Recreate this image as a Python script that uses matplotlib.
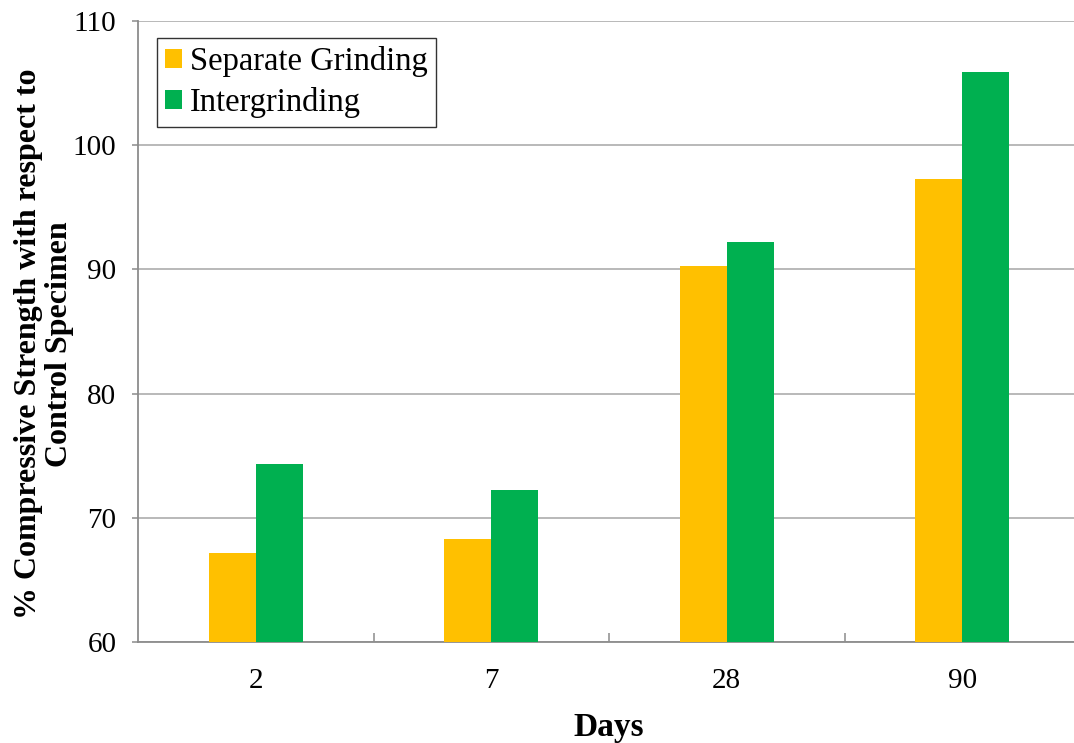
import matplotlib
matplotlib.use("Agg")
import matplotlib.pyplot as plt
import numpy as np

# Compressive strength (% of control specimen) by curing age
days = ["2", "7", "28", "90"]
separate_grinding = [67.2, 68.3, 90.3, 97.3]
intergrinding = [74.3, 72.2, 92.2, 105.9]
series_names = ["Separate Grinding", "Intergrinding"]
y_ticks = [60, 70, 80, 90, 100, 110]

plt.rcParams["font.family"] = ["Liberation Serif", "DejaVu Serif"]

fig = plt.figure(figsize=(10.74, 7.43), dpi=100)
ax = fig.add_axes([138 / 1074, 101 / 743, 942 / 1074, 621 / 743])

x = np.arange(len(days))
w = 0.2
ax.bar(x - w / 2, separate_grinding, width=w, color="#FFC000",
       label=series_names[0], zorder=3)
ax.bar(x + w / 2, intergrinding, width=w, color="#00B050",
       label=series_names[1], zorder=3)

ax.set_xlim(-0.5, len(days) - 0.5)
ax.set_ylim(60, 110)
ax.set_yticks(y_ticks)
ax.set_xticks(x)
ax.set_xticklabels(days)
ax.set_xticks(np.arange(0.5, len(days) - 0.5, 1.0), minor=True)

grey = "#8c8c8c"
ax.yaxis.grid(True, color="#a6a6a6", linewidth=1.1, zorder=0)
ax.set_axisbelow(True)
for side in ("top", "right"):
    ax.spines[side].set_visible(False)
for side in ("left", "bottom"):
    ax.spines[side].set_color(grey)
    ax.spines[side].set_linewidth(1.3)

ax.tick_params(axis="y", direction="out", length=4.5, width=1.1, color=grey,
               labelsize=21, pad=11)
ax.tick_params(axis="x", which="major", length=0, labelsize=21, pad=19)
ax.tick_params(axis="x", which="minor", direction="in", length=6.5,
               width=1.1, color=grey)

ax.set_xlabel("Days", fontsize=24, fontweight="bold", labelpad=13)
fig.text(44 / 1074, 1 - 344 / 743,
         "% Compressive Strength with respect to\nControl Specimen",
         rotation=90, ha="center", va="center", multialignment="center",
         fontsize=23, fontweight="bold", linespacing=1.05)

leg = ax.legend(loc="upper left", bbox_to_anchor=(0.02, 0.973),
                fontsize=23.5, frameon=True, fancybox=False,
                handlelength=0.52, handleheight=0.52, handletextpad=0.25,
                borderpad=0.25, labelspacing=0.32, borderaxespad=0)
leg.get_frame().set_edgecolor("black")
leg.get_frame().set_linewidth(1.0)

fig.savefig("out.png", dpi=100)
